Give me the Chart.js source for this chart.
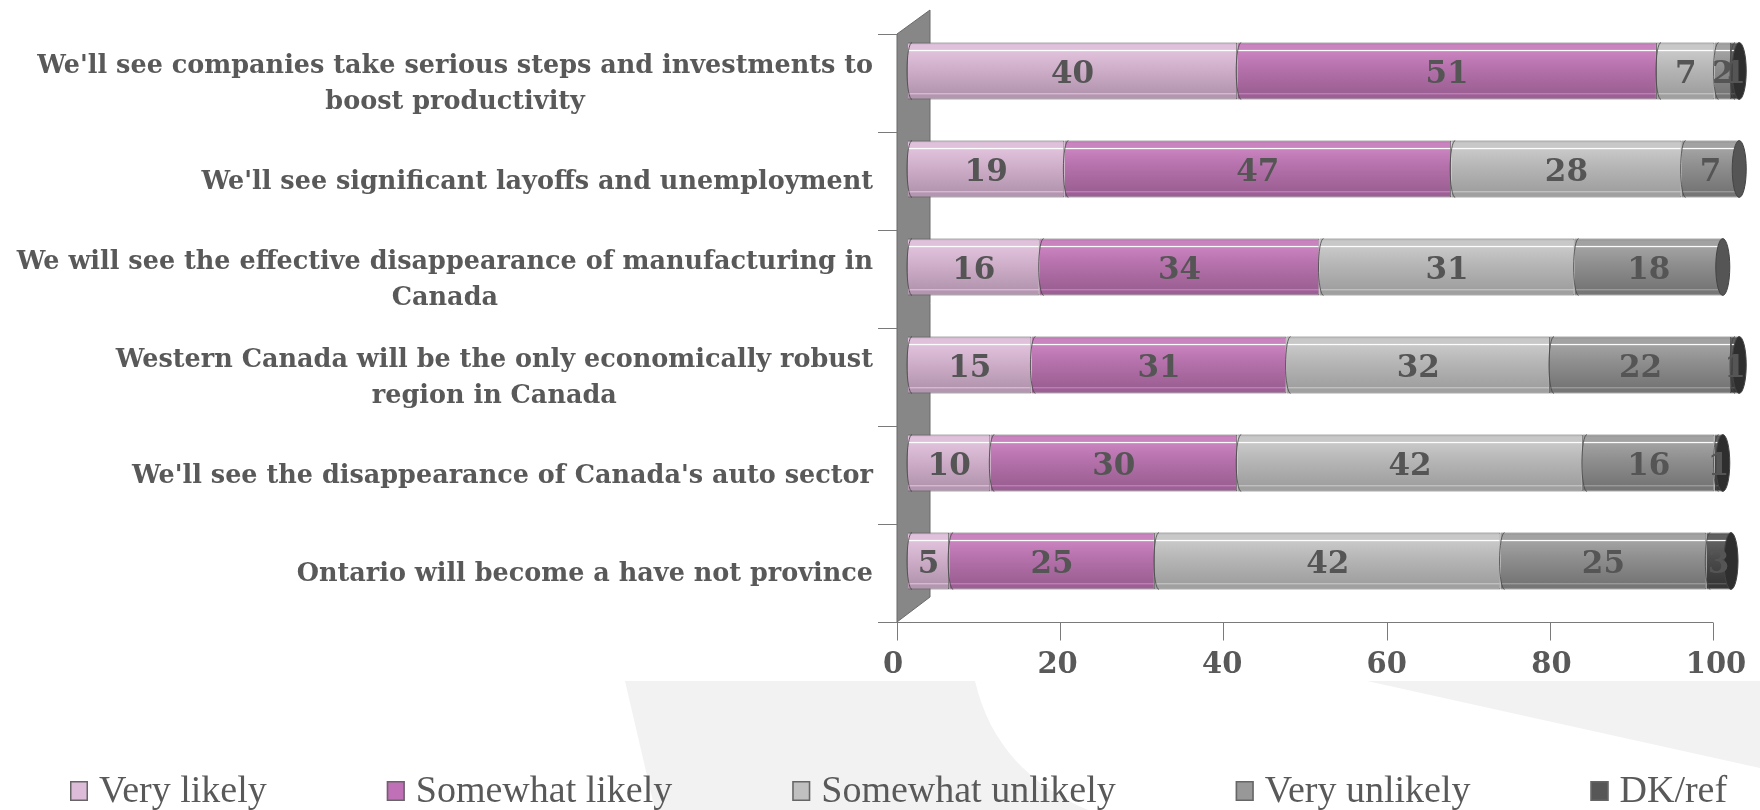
<!DOCTYPE html>
<html><head><meta charset="utf-8">
<script src="https://cdn.jsdelivr.net/npm/chart.js@4.4.1/dist/chart.umd.min.js"></script>
<style>html,body{margin:0;padding:0;background:#fff;}#wrap{width:1760px;height:810px;}</style>
</head><body><div id="wrap"><canvas id="c" width="1760" height="810"></canvas></div>
<script>
// ---------- data ----------
const categories = [
  ["We'll see companies take serious steps and investments to", "boost productivity"],
  ["We'll see significant layoffs and unemployment"],
  ["We will see the effective disappearance of manufacturing in", "Canada"],
  ["Western Canada will be the only economically robust", "region in Canada"],
  ["We'll see the disappearance of Canada's auto sector"],
  ["Ontario will become a have not province"]
];
const seriesNames = ["Very likely", "Somewhat likely", "Somewhat unlikely", "Very unlikely", "DK/ref"];
const veryLikely       = [40, 19, 16, 15, 10, 5];
const somewhatLikely   = [51, 47, 34, 31, 30, 25];
const somewhatUnlikely = [7, 28, 31, 32, 42, 42];
const veryUnlikely     = [2, 7, 18, 22, 16, 25];
const dkRef            = [1, 0, 0, 1, 1, 3];
const xTicks = [0, 20, 40, 60, 80, 100];

// ---------- styles ----------
const palette = [
  {light:'#e0c1dc', mid:'#cfafca', dark:'#b596b0', legend:'#dcbcd9', cap:'#b394ae'},
  {light:'#c983bf', mid:'#b571ab', dark:'#9c6094', legend:'#c070b6', cap:'#9a5d92'},
  {light:'#c8c8c8', mid:'#b6b6b6', dark:'#a0a0a0', legend:'#c0c0c0', cap:'#8f8f8f'},
  {light:'#a2a2a2', mid:'#8e8e8e', dark:'#767676', legend:'#989898', cap:'#555555'},
  {light:'#606060', mid:'#4c4c4c', dark:'#383838', legend:'#575757', cap:'#2e2e2e'}
];
const TEXT = '#595959';
const SERIF_B = '"DejaVu Serif", serif';
const BAR_FRAC = 0.58;

function makeGrad(c, i) {
  const p = palette[i];
  const chart = c.chart;
  const ys = chart.scales && chart.scales.y;
  if (!ys || c.dataIndex === undefined || !chart.chartArea) return p.mid;
  const yc = ys.getPixelForValue(c.dataIndex);
  const band = Math.abs(ys.getPixelForValue(1) - ys.getPixelForValue(0));
  const t = band * BAR_FRAC / 2;
  const g = chart.ctx.createLinearGradient(0, yc - t, 0, yc + t);
  g.addColorStop(0, p.mid);
  g.addColorStop(0.05, p.light);
  g.addColorStop(0.12, p.light);
  g.addColorStop(0.14, '#ffffff');
  g.addColorStop(0.16, p.light);
  g.addColorStop(0.45, p.mid);
  g.addColorStop(0.88, p.dark);
  g.addColorStop(0.9, p.light);
  g.addColorStop(0.92, p.dark);
  g.addColorStop(1, p.dark);
  return g;
}

const seriesData = [veryLikely, somewhatLikely, somewhatUnlikely, veryUnlikely, dkRef];

const frontX = (xs, v) => xs.getPixelForValue(v) - 11 - 7 * v / 100;

const decoPlugin = {
  id: 'deco',
  beforeDraw(chart) {
    const ctx = chart.ctx;
    ctx.save();
    ctx.fillStyle = '#ffffff';
    ctx.fillRect(0, 0, chart.width, chart.height);
    ctx.fillStyle = '#f2f2f2';
    ctx.beginPath();
    ctx.moveTo(625, 681); ctx.lineTo(975, 681);
    ctx.bezierCurveTo(990, 745, 1030, 785, 1088, 810);
    ctx.lineTo(655, 810); ctx.closePath(); ctx.fill();
    ctx.beginPath();
    ctx.moveTo(1367, 681); ctx.lineTo(1760, 681); ctx.lineTo(1760, 768); ctx.closePath(); ctx.fill();
    ctx.restore();
  },
  beforeDatasetsDraw(chart) {
    const ctx = chart.ctx, xs = chart.scales.x, ca = chart.chartArea;
    const fx0 = frontX(xs, 0), bx0 = xs.getPixelForValue(0) + 22;
    ctx.save();
    // wall
    ctx.beginPath();
    ctx.moveTo(fx0, ca.top + 12); ctx.lineTo(bx0, ca.top - 12);
    ctx.lineTo(bx0, ca.bottom - 13); ctx.lineTo(fx0, ca.bottom + 12);
    ctx.closePath();
    ctx.fillStyle = '#878787'; ctx.fill();
    ctx.strokeStyle = '#6b6b6b'; ctx.lineWidth = 1; ctx.stroke();
    // category tick marks
    const n = categories.length, step = (ca.bottom - ca.top) / n;
    ctx.strokeStyle = '#7a7a7a';
    for (let k = 0; k <= n; k++) {
      const y = Math.round(ca.top + 12 + k * step) + 0.5;
      ctx.beginPath(); ctx.moveTo(fx0 - 19, y); ctx.lineTo(fx0, y); ctx.stroke();
    }
    // value axis line and ticks
    const yA = Math.round(ca.bottom + 12) + 0.5;
    ctx.beginPath(); ctx.moveTo(fx0, yA); ctx.lineTo(frontX(xs, 100), yA); ctx.stroke();
    xTicks.forEach(v => {
      const x = Math.round(frontX(xs, v)) + 0.5;
      ctx.beginPath(); ctx.moveTo(x, yA); ctx.lineTo(x, yA + 18); ctx.stroke();
    });
    // category labels
    const ys = chart.scales.y;
    ctx.fillStyle = TEXT;
    ctx.font = 'bold 25.5px ' + SERIF_B;
    ctx.textBaseline = 'middle';
    ctx.textAlign = 'center';
    const rightEdge = fx0 - 24;
    categories.forEach((lines, i) => {
      const widest = Math.max(...lines.map(l => ctx.measureText(l).width));
      const cx = rightEdge - widest / 2;
      const yc = ys.getPixelForValue(i) + 13;
      lines.forEach((l, j) => {
        ctx.fillText(l, cx, yc + (j - (lines.length - 1) / 2) * 36);
      });
    });
    ctx.restore();
  },
  afterDatasetsDraw(chart) {
    const ctx = chart.ctx;
    ctx.save();
    const nRows = categories.length;
    const metas = chart.data.datasets.map((d, i) => chart.getDatasetMeta(i));
    // segment boundary arcs
    ctx.strokeStyle = 'rgba(70,70,70,0.8)'; ctx.lineWidth = 1;
    metas.forEach((m, di) => {
      m.data.forEach((el, ri) => {
        if (!seriesData[di][ri]) return;
        const h = el.height;
        ctx.beginPath();
        ctx.ellipse(el.base + 4, el.y, 5, h / 2, 0, Math.PI / 2, 3 * Math.PI / 2);
        ctx.stroke();
      });
    });
    // end caps
    for (let ri = 0; ri < nRows; ri++) {
      let last = -1;
      for (let di = 0; di < metas.length; di++) if (seriesData[di][ri]) last = di;
      if (last < 0) continue;
      const el = metas[last].data[ri];
      ctx.beginPath();
      ctx.ellipse(el.x, el.y, 7, el.height / 2, 0, 0, Math.PI * 2);
      ctx.fillStyle = palette[last].cap; ctx.fill();
      ctx.strokeStyle = '#444'; ctx.stroke();
    }
    // value labels
    ctx.fillStyle = '#555555';
    ctx.font = 'bold 31px ' + SERIF_B;
    ctx.textAlign = 'center'; ctx.textBaseline = 'middle';
    metas.forEach((m, di) => {
      m.data.forEach((el, ri) => {
        const v = seriesData[di][ri];
        if (!v) return;
        ctx.fillText(String(v), (el.x + el.base) / 2, el.y + 4);
      });
    });
    ctx.restore();
  },
  afterDraw(chart) {
    const ctx = chart.ctx;
    ctx.save();
    ctx.font = '38px "Liberation Serif", serif';
    ctx.textBaseline = 'middle'; ctx.textAlign = 'left';
    let x = 70; const yC = 791;
    chart.data.datasets.forEach((d, i) => {
      ctx.fillStyle = palette[i].legend;
      ctx.fillRect(x, yC - 10, 18, 20);
      ctx.strokeStyle = '#666'; ctx.lineWidth = 1.5;
      ctx.strokeRect(x + 0.75, yC - 9.25, 16.5, 18.5);
      ctx.fillStyle = TEXT;
      ctx.fillText(d.label, x + 29, yC + 1);
      x += 29 + ctx.measureText(d.label).width + 120;
    });
    ctx.restore();
  }
};

const datasets = seriesNames.map((name, i) => ({
  label: name,
  data: seriesData[i],
  backgroundColor: c => makeGrad(c, i),
  borderColor: '#5a5a5a',
  borderWidth: 1,
  borderSkipped: 'start',
  barPercentage: BAR_FRAC,
  categoryPercentage: 1,
  clip: false
}));

new Chart(document.getElementById('c'), {
  type: 'bar',
  data: { labels: categories, datasets },
  options: {
    indexAxis: 'y',
    responsive: false,
    animation: false,
    layout: { padding: { top: 22, right: 29, left: 0, bottom: 0 } },
    plugins: { legend: { display: false }, tooltip: { enabled: false } },
    scales: {
      x: {
        stacked: true, min: 0, max: 100, position: 'bottom',
        afterBuildTicks: s => { s.ticks = xTicks.map(v => ({ value: v })); },
        afterFit: s => { s.height = 200; s.paddingLeft = 0; s.paddingRight = 0; },
        grid: { display: false, drawTicks: false },
        border: { display: false },
        ticks: { padding: 38, labelOffset: -15, color: TEXT, autoSkip: false, maxRotation: 0,
                 font: { family: SERIF_B, weight: 'bold', size: 29 } }
      },
      y: {
        stacked: true,
        afterFit: s => { s.width = 908; s.paddingTop = 0; s.paddingBottom = 0; },
        grid: { display: false }, border: { display: false },
        ticks: { display: false }
      }
    }
  },
  plugins: [decoPlugin]
});
</script>
</body></html>
